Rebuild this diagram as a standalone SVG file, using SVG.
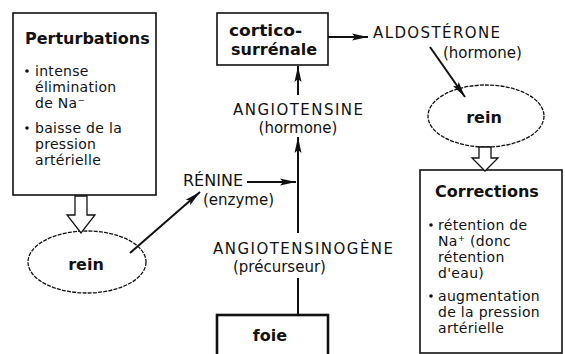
<svg xmlns="http://www.w3.org/2000/svg" width="565" height="354" viewBox="0 0 565 354">
<style>
text{font-family:"DejaVu Sans","Liberation Sans",sans-serif;fill:#111;}
.t{font-size:15px;}
.s{font-size:14px;letter-spacing:0.3px;}
.b{font-size:16px;font-weight:bold;}
.box{fill:#fff;stroke:#111;stroke-width:1.6;}
.ell{fill:#fff;stroke:#111;stroke-width:1.3;stroke-dasharray:4 1.2;}
.ln{stroke:#111;stroke-width:2;fill:none;}
.hol{fill:#fff;stroke:#111;stroke-width:1.3;stroke-linejoin:miter;}
.dot{fill:#111;}
</style>
<defs>
<marker id="ah" viewBox="0 0 16 8" refX="16" refY="4" markerWidth="16" markerHeight="8" markerUnits="userSpaceOnUse" orient="auto">
<path d="M0,0.5 L16,4 L0,7.5 L3,4 Z" fill="#111"/>
</marker>
</defs>
<rect width="565" height="354" fill="#fff"/>

<g id="perturbations">
<rect class="box" x="13" y="13" width="143" height="182"/>
<text class="b" x="25" y="44">Perturbations</text>
<circle class="dot" cx="27" cy="71" r="1.8"/>
<text class="s" x="35" y="76">intense</text>
<text class="s" x="35" y="92">élimination</text>
<text class="s" x="35" y="108">de Na⁻</text>
<circle class="dot" cx="27" cy="128" r="1.8"/>
<text class="s" x="35" y="133">baisse de la</text>
<text class="s" x="35" y="149">pression</text>
<text class="s" x="35" y="165">artérielle</text>
</g>

<g id="rein-gauche">
<ellipse class="ell" cx="87" cy="262" rx="59" ry="31"/>
<text class="b" x="86" y="270" text-anchor="middle">rein</text>
</g>

<g id="corticosurrenale">
<rect class="box" x="217" y="13" width="111" height="52"/>
<text class="b" x="229" y="36" textLength="73" lengthAdjust="spacingAndGlyphs">cortico-</text>
<text class="b" x="231" y="55">surrénale</text>
</g>

<g id="rein-droit">
<ellipse class="ell" cx="486" cy="116" rx="58" ry="31"/>
<text class="b" x="484" y="123" text-anchor="middle">rein</text>
</g>

<g id="corrections">
<rect class="box" x="420" y="170" width="142" height="183"/>
<text class="b" x="435" y="197">Corrections</text>
<circle class="dot" cx="431" cy="225" r="1.8"/>
<text class="s" x="438" y="230">rétention de</text>
<text class="s" x="438" y="246">Na⁺ (donc</text>
<text class="s" x="438" y="262">rétention</text>
<text class="s" x="438" y="278">d'eau)</text>
<circle class="dot" cx="431" cy="296" r="1.8"/>
<text class="s" x="438" y="301">augmentation</text>
<text class="s" x="438" y="317">de la pression</text>
<text class="s" x="438" y="333">artérielle</text>
</g>

<g id="foie">
<rect class="box" x="217" y="315" width="111" height="50" style="stroke-width:2.6"/>
<text class="b" x="270" y="341" text-anchor="middle">foie</text>
</g>

<g id="labels">
<text class="t" x="183" y="186" textLength="60" lengthAdjust="spacingAndGlyphs">RÉNINE</text>
<text class="t" x="203" y="205">(enzyme)</text>
<text class="t" x="298" y="115" text-anchor="middle" textLength="130" lengthAdjust="spacing">ANGIOTENSINE</text>
<text class="t" x="298" y="133" text-anchor="middle">(hormone)</text>
<text class="t" x="373" y="38" textLength="127" lengthAdjust="spacing">ALDOSTÉRONE</text>
<text class="t" x="443" y="58">(hormone)</text>
<text class="t" x="213" y="254" textLength="180" lengthAdjust="spacing">ANGIOTENSINOGÈNE</text>
<text class="t" x="233" y="272">(précurseur)</text>
</g>

<g id="connectors">
<polygon class="hol" points="75,196 87,196 87,215 95,215 81,233 67,215 75,215"/>
<polygon class="hol" points="479,147 491,147 491,158 498,158 485,171 472,158 479,158"/>
<line class="ln" x1="130" y1="253" x2="200" y2="192" marker-end="url(#ah)"/>
<line class="ln" x1="247" y1="182" x2="296" y2="182" marker-end="url(#ah)"/>
<line class="ln" x1="298" y1="315" x2="298" y2="278"/>
<line class="ln" x1="298" y1="233" x2="298" y2="137" marker-end="url(#ah)"/>
<line class="ln" x1="298" y1="95" x2="298" y2="66" marker-end="url(#ah)"/>
<line class="ln" x1="328" y1="37" x2="368" y2="37" marker-end="url(#ah)"/>
<line class="ln" x1="430" y1="47" x2="465" y2="97" marker-end="url(#ah)"/>
</g>
</svg>
